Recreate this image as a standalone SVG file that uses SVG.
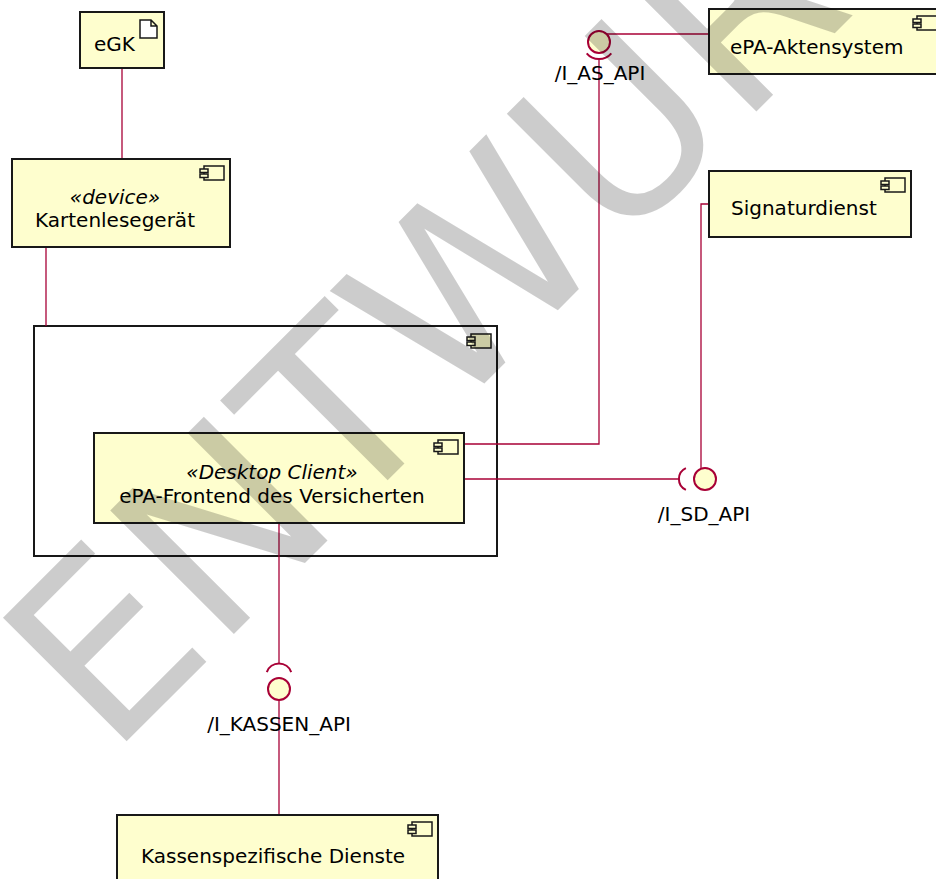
<svg xmlns="http://www.w3.org/2000/svg" xmlns:xlink="http://www.w3.org/1999/xlink" width="936" height="879" viewBox="0 0 936 879">
<style>
.box{fill:#FEFECE;stroke:#181818;stroke-width:2}
.cont{fill:none;stroke:#181818;stroke-width:2}
.t{font-family:"DejaVu Sans",sans-serif;font-size:20px;fill:#000}
.st{font-style:italic}
.mid{text-anchor:middle}
.c{fill:none;stroke:#A80036;stroke-width:1.3}
.ball{fill:#FEFECE;stroke:#A80036;stroke-width:2}
.sock{fill:none;stroke:#A80036;stroke-width:2}
.ico{fill:#FEFECE;stroke:#181818;stroke-width:1.5}
.wm{font-family:"DejaVu Sans",sans-serif;font-size:240px;fill:#000;fill-opacity:.2}
</style>
<defs>
<g id="cico"><rect x="4" y="0" width="20" height="14"/><rect x="0" y="3" width="8" height="3.5"/><rect x="0" y="8" width="8" height="3.5"/></g>
</defs>
<rect x="0" y="0" width="936" height="879" fill="#fff"/>
<g id="container">
<rect class="cont" x="34" y="326" width="463" height="230"/>
<use xlink:href="#cico" class="ico" x="467" y="334"/>
</g>
<g id="connectors">
<path class="c" d="M122,68 V159"/>
<path class="c" d="M46,247 V326"/>
<path class="c" d="M464,444 H599 V60"/>
<path class="c" d="M605,34 H709"/>
<path class="c" d="M464,479 H679"/>
<path class="c" d="M701,469 V204 H709"/>
<path class="c" d="M279,523 V663"/>
<path class="c" d="M279,700 V815"/>
</g>
<g id="eGK">
<rect class="box" x="80" y="12" width="84" height="56"/>
<text class="t" x="94" y="51">eGK</text>
<path d="M140,20 h11 l6,6 v12 h-17 z M151,20 v6 h6" fill="#fff" stroke="#181818" stroke-width="1.5"/>
</g>
<g id="kartenlesegeraet">
<rect class="box" x="12" y="159" width="218" height="88"/>
<use xlink:href="#cico" class="ico" x="200" y="166"/>
<text class="t st mid" x="115" y="204">«device»</text>
<text class="t mid" x="115" y="227">Kartenlesegerät</text>
</g>
<g id="desktopclient">
<rect class="box" x="94" y="433" width="370" height="90"/>
<use xlink:href="#cico" class="ico" x="434" y="440"/>
<text class="t st mid" x="272" y="479">«Desktop Client»</text>
<text class="t mid" x="272" y="503">ePA-Frontend des Versicherten</text>
</g>
<g id="aktensystem">
<rect class="box" x="709" y="9" width="240" height="65"/>
<use xlink:href="#cico" class="ico" x="913" y="16"/>
<text class="t" x="730" y="54">ePA-Aktensystem</text>
</g>
<g id="signaturdienst">
<rect class="box" x="709" y="171" width="202" height="66"/>
<use xlink:href="#cico" class="ico" x="881" y="178"/>
<text class="t" x="731" y="215">Signaturdienst</text>
</g>
<g id="kassendienste">
<rect class="box" x="117" y="815" width="321" height="80"/>
<use xlink:href="#cico" class="ico" x="408" y="822"/>
<text class="t" x="141" y="863">Kassenspezifische Dienste</text>
</g>
<g id="I_AS_API">
<circle class="ball" cx="599" cy="42" r="11"/>
<path class="sock" d="M611.3,53.3 A16,16 0 0 1 586.7,53.3"/>
<text class="t mid" x="600" y="80">/I_AS_API</text>
</g>
<g id="I_SD_API">
<circle class="ball" cx="705" cy="479" r="11"/>
<path class="sock" d="M685.9,489.9 A12,12 0 0 1 685.9,468.1"/>
<text class="t mid" x="704" y="521">/I_SD_API</text>
</g>
<g id="I_KASSEN_API">
<circle class="ball" cx="279" cy="689" r="11"/>
<path class="sock" d="M266.8,672.1 A13,13 0 0 1 291.2,672.1"/>
<text class="t mid" x="279" y="731">/I_KASSEN_API</text>
</g>
<g id="watermark">
<text class="wm" transform="translate(110,758) rotate(-45)">ENTWURF</text>
</g>
</svg>
